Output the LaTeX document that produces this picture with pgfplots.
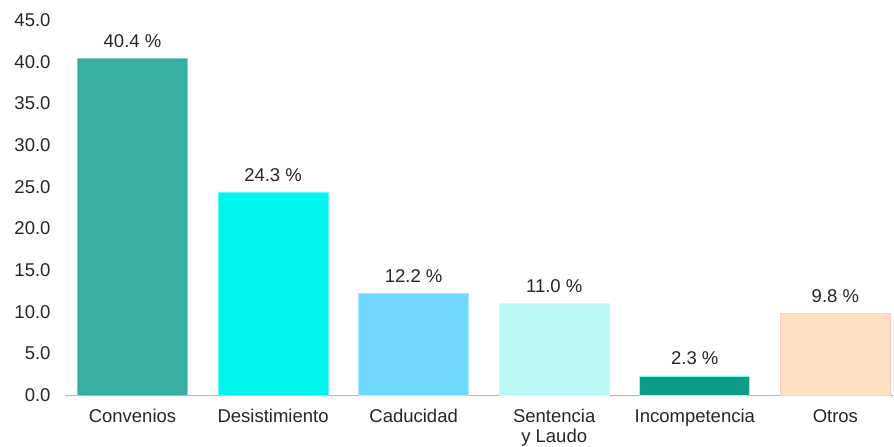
\documentclass[border=0pt]{standalone}
\usepackage{pgfplots}
\pgfplotsset{compat=1.18}
\usepackage{fontspec}
\setmainfont{Liberation Sans}
\definecolor{c1}{HTML}{36AFA0}
\definecolor{c2}{HTML}{00F5EE}
\definecolor{c3}{HTML}{6FD8FF}
\definecolor{c4}{HTML}{BAF7F5}
\definecolor{c5}{HTML}{0C9C86}
\definecolor{c6}{HTML}{FFE0C2}
\definecolor{txt}{HTML}{262626}
\begin{document}
\begin{tikzpicture}
\begin{axis}[
  name=ax,
  scale only axis,
  width=828bp, height=375bp,
  xmin=-0.48, xmax=5.41,
  ymin=0, ymax=45,
  ytick={0,5,...,45},
  xtick={0,1,2,3,4,5},
  xticklabels={Convenios,Desistimiento,Caducidad,{Sentencia\\[-2bp]y Laudo},Incompetencia,Otros},
  major tick length=0pt,
  axis y line=left,
  y axis line style={draw=none},
  axis x line=bottom,
  x axis line style={-, draw=gray!60, line width=0.8bp},
  ybar, bar width=110bp, bar shift=0pt,
  /pgf/number format/assume math mode=true,
  yticklabel={\pgfmathprintnumber[fixed,fixed zerofill,precision=1]{\tick}},
  ticklabel style={font=\fontsize{18.5bp}{22bp}\selectfont, text=txt},
  yticklabel style={anchor=east, xshift=-11bp},
  xticklabel style={align=center, anchor=north, yshift=-11bp},
  nodes near coords={\pgfmathprintnumber[fixed,fixed zerofill,precision=1]{\pgfplotspointmeta}~\%},
  every node near coord/.append style={font=\fontsize{18.5bp}{22bp}\selectfont, text=txt, anchor=base, yshift=11bp},
  clip=false,
]
\addplot[fill=c1, draw=c1!60!white, line width=0.6bp] coordinates {(0,40.4)};
\addplot[fill=c2, draw=c2!60!white, line width=0.6bp] coordinates {(1,24.3)};
\addplot[fill=c3, draw=c3!60!white, line width=0.6bp] coordinates {(2,12.2)};
\addplot[fill=c4, draw=c4!60!white, line width=0.6bp] coordinates {(3,11.0)};
\addplot[fill=c5, draw=c2!50!white, line width=0.6bp] coordinates {(4,2.3)};
\addplot[fill=c6, draw=red!20!white, line width=0.6bp] coordinates {(5,9.8)};
\end{axis}
\pgfresetboundingbox
\path ([shift={(-65bp,-52bp)}]ax.south west) rectangle ([shift={(1bp,20bp)}]ax.north east);
\end{tikzpicture}
\end{document}
